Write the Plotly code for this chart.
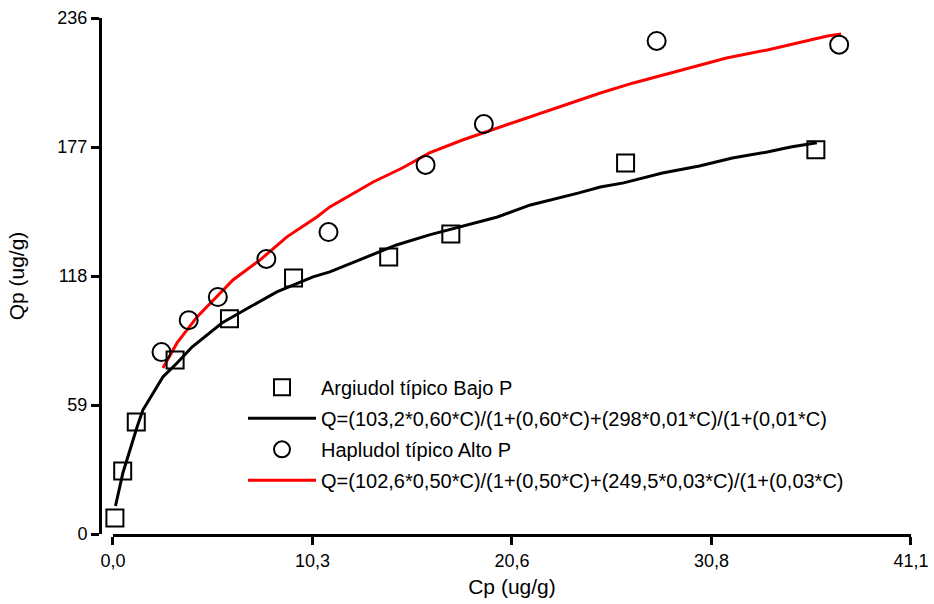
import plotly.graph_objects as go

# Argiudol típico Bajo P (squares)
arg_x = [0.1, 0.5, 1.2, 3.2, 6.0, 9.3, 14.2, 17.4, 26.4, 36.2]
arg_y = [7.3, 28.8, 51.2, 79.6, 98.4, 117.1, 126.7, 137.2, 169.7, 175.7]

# Hapludol típico Alto P (circles)
hap_x = [2.5, 3.9, 5.4, 7.9, 11.1, 16.1, 19.1, 28.0, 37.4]
hap_y = [83.2, 97.8, 108.4, 125.8, 138.1, 168.8, 187.5, 225.5, 223.8]

# Fitted curve, Argiudol
fit1_x = [0.13, 0.51, 1.24, 1.54, 2.57, 3.30, 4.07, 5.61, 7.05, 8.44, 10.3, 11.17,
          14.6, 16.3, 19.8, 21.5, 24.0, 25.1, 26.3, 28.3, 30.2, 31.9, 33.7, 34.9, 36.25]
fit1_y = [12.8, 27.9, 48.9, 56.7, 71.8, 78.2, 85.5, 96.5, 103.8, 110.7, 117.6, 119.9,
          132.2, 136.8, 145.0, 150.5, 156.0, 158.7, 160.6, 165.1, 168.3, 172.0, 174.7, 177.0, 178.9]

# Fitted curve, Hapludol
fit2_x = [2.57, 3.30, 4.33, 5.66, 6.18, 7.57, 8.96, 10.5, 11.17, 13.4, 14.9, 16.3, 18.0,
          19.8, 21.5, 24.0, 25.1, 26.8, 29.4, 31.6, 33.7, 35.4, 36.8, 37.5]
fit2_y = [75.9, 87.4, 99.3, 111.6, 116.2, 125.3, 135.9, 145.0, 149.6, 161.0, 167.4, 174.3, 180.2,
          185.7, 190.8, 198.5, 201.7, 206.3, 212.3, 217.7, 221.4, 225.1, 227.8, 228.7]

x_tickvals = [0, 10.275, 20.55, 30.825, 41.1]
x_ticktext = ["0,0", "10,3", "20,6", "30,8", "41,1"]
y_tickvals = [0, 59, 118, 177, 236]
y_ticktext = ["0", "59", "118", "177", "236"]

names = ["Argiudol típico Bajo P",
         "Q=(103,2*0,60*C)/(1+(0,60*C)+(298*0,01*C)/(1+(0,01*C)",
         "Hapludol típico Alto P",
         "Q=(102,6*0,50*C)/(1+(0,50*C)+(249,5*0,03*C)/(1+(0,03*C)"]

fig = go.Figure()
fig.add_trace(go.Scatter(x=fit1_x, y=fit1_y, mode="lines", name=names[1], legendgroup="b",
                         line=dict(color="black", width=3), legendrank=2))
fig.add_trace(go.Scatter(x=fit2_x, y=fit2_y, mode="lines", name=names[3], legendgroup="d",
                         line=dict(color="#ff0000", width=3), legendrank=4))
fig.add_trace(go.Scatter(x=arg_x, y=arg_y, mode="markers", name=names[0], cliponaxis=False,
                         legendgroup="a",
                         marker=dict(symbol="square-open", size=17, color="black",
                                     line=dict(width=2, color="black")), legendrank=1))
fig.add_trace(go.Scatter(x=hap_x, y=hap_y, mode="markers", name=names[2], cliponaxis=False,
                         legendgroup="c",
                         marker=dict(symbol="circle-open", size=18, color="black",
                                     line=dict(width=2, color="black")), legendrank=3))

font = "Liberation Sans, Arial, sans-serif"
fig.update_layout(
    width=934, height=604,
    margin=dict(l=100, r=23, t=18, b=70),
    plot_bgcolor="white", paper_bgcolor="white",
    font=dict(family=font, color="black", size=18),
    showlegend=True,
    legend=dict(x=(243 - 100) / 811, y=0.322, xanchor="left", yanchor="top",
                font=dict(size=20, family=font), itemwidth=68,
                tracegroupgap=2, bgcolor="rgba(0,0,0,0)"),
    xaxis=dict(range=[0, 41.1], domain=[0.016, 1], tickvals=x_tickvals, ticktext=x_ticktext,
               showline=True, linecolor="black", linewidth=3, ticks="outside",
               ticklen=8, tickwidth=3, tickcolor="black", showgrid=False, zeroline=False,
               automargin=False,
               title=dict(text="Cp (ug/g)", font=dict(size=21), standoff=10),
               tickfont=dict(size=18)),
    yaxis=dict(range=[0, 236], anchor="free", position=0, tickvals=y_tickvals,
               ticktext=y_ticktext, showline=True, linecolor="black", linewidth=3,
               ticks="outside", ticklen=8, tickwidth=3, tickcolor="black",
               showgrid=False, zeroline=False, automargin=False,
               title=dict(text="Qp (ug/g)", font=dict(size=21), standoff=26),
               tickfont=dict(size=18)),
)

fig.write_html("out.html")
